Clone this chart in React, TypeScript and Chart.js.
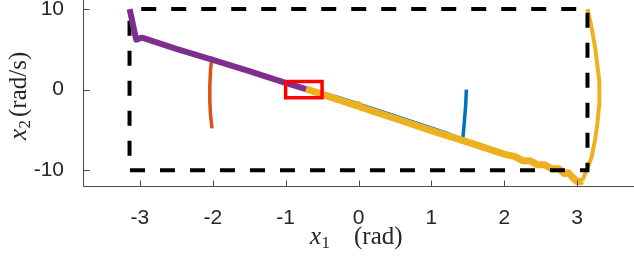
import React, { useEffect, useRef } from "react";
import { Chart, registerables } from "chart.js";

Chart.register(...registerables);

// ---- axes / ticks ----
const X_MIN = -3.78;
const X_MAX = 3.78;
const Y_MIN = -12.07;
const Y_MAX = 11.12;
const xTickValues = [-3, -2, -1, 0, 1, 2, 3];
const yTickValues = [-10, 0, 10];

// ---- state bounds (dashed box) ----
const boundsX = [-3.1416, 3.1416, 3.1416, -3.1416, -3.1416];
const boundsY = [10, 10, -10, -10, 10];

// ---- zoom region (red box) ----
const zoomBoxX = [-1, -0.5, -0.5, -1, -1];
const zoomBoxY = [1, 1, -1, -1, 1];

// ---- trajectories ----
const purpleX = [-3.14, -3.05, -2.97, -2.5, -2.0, -1.5, -1.0, -0.72];
const purpleY = [10, 6.2, 6.45, 5.05, 3.7, 2.3, 0.85, 0.08];

const orangeX = [-2.01, -2.03, -2.04, -2.04, -2.03, -2.01];
const orangeY = [4.1, 2.5, 0.5, -1.5, -3.2, -4.8];

const blueX = [1.48, 1.47, 1.45, 1.43, 1.2, 0.9, 0.6, 0.3, -0.3, -0.65];
const blueY = [0.0, -2.0, -4.2, -6.2, -5.35, -4.45, -3.55, -2.65, -0.9, -0.05];

const yellowX = [
  -0.72, -0.3, -0.02, 0.0, 0.03, 0.5, 1.0, 1.5, 2.0, 2.15, 2.25, 2.35, 2.45,
  2.55, 2.65, 2.75, 2.82, 2.88, 2.94, 3.0, 3.05, 3.07, 3.1, 3.15, 3.2, 3.25,
  3.28, 3.3, 3.31, 3.3, 3.28, 3.25, 3.21, 3.18, 3.14,
];
const yellowY = [
  0.09, -1.17, -2.01, -1.85, -2.16, -3.57, -5.07, -6.5, -8.0, -8.3, -8.8,
  -8.8, -9.3, -9.3, -9.8, -9.8, -10.4, -10.3, -10.9, -11.4, -11.4, -11.3,
  -10.6, -9.6, -8.3, -6.0, -4.0, -2.0, -0.5, 1.0, 2.8, 5.0, 7.1, 8.5, 10,
];

function pts(xs: number[], ys: number[]) {
  return xs.map((x, i) => ({ x, y: ys[i] }));
}

const AXIS_COLOR = "#4a4a4a";
const TEXT_COLOR = "#262626";

const axesPlugin = {
  id: "matlabAxes",
  afterDatasetsDraw(chart: any) {
    const { ctx, chartArea, scales } = chart;
    const xs = scales.x;
    const ys = scales.y;
    const left = Math.round(chartArea.left) + 0.5;
    const bottom = Math.round(chartArea.bottom) - 0.5;
    ctx.save();
    ctx.strokeStyle = AXIS_COLOR;
    ctx.lineWidth = 1;
    ctx.beginPath();
    ctx.moveTo(left, chartArea.top);
    ctx.lineTo(left, bottom);
    ctx.lineTo(chartArea.right, bottom);
    ctx.stroke();
    // inward ticks
    ctx.beginPath();
    xTickValues.forEach((v) => {
      const px = Math.round(xs.getPixelForValue(v)) + 0.5;
      ctx.moveTo(px, bottom);
      ctx.lineTo(px, bottom - 6);
    });
    yTickValues.forEach((v) => {
      const py = Math.round(ys.getPixelForValue(v)) + 0.5;
      ctx.moveTo(left, py);
      ctx.lineTo(left + 6, py);
    });
    ctx.stroke();
    ctx.restore();
  },
  afterDraw(chart: any) {
    const { ctx } = chart;
    ctx.save();
    ctx.fillStyle = TEXT_COLOR;
    ctx.textBaseline = "alphabetic";
    // x-axis title: x_1 (rad)
    const bx = 310;
    const by = 244;
    ctx.font = "italic 25px 'Liberation Serif'";
    ctx.textAlign = "left";
    ctx.fillText("x", bx, by);
    const wx = ctx.measureText("x").width;
    ctx.font = "17px 'Liberation Serif'";
    ctx.fillText("1", bx + wx + 0.5, by + 4);
    ctx.font = "25px 'Liberation Serif'";
    ctx.fillText("(rad)", 354, by);

    // y-axis title: x_2 (rad/s), rotated
    ctx.translate(26, 140);
    ctx.rotate(-Math.PI / 2);
    ctx.font = "italic 25px 'Liberation Serif'";
    ctx.fillText("x", 0, 0);
    const wy = ctx.measureText("x").width;
    ctx.font = "17px 'Liberation Serif'";
    ctx.fillText("2", wy + 0.5, 4);
    ctx.font = "25px 'Liberation Serif'";
    ctx.fillText("(rad/s)", 23, 0);
    ctx.restore();
  },
};

export default function App() {
  const ref = useRef<HTMLCanvasElement | null>(null);

  useEffect(() => {
    if (!ref.current) return;
    const line = (
      data: { x: number; y: number }[],
      color: string,
      width: number,
      order: number,
      extra: any = {}
    ) => ({
      data,
      borderColor: color,
      backgroundColor: color,
      borderWidth: width,
      pointRadius: 0,
      showLine: true,
      fill: false,
      tension: 0,
      order,
      borderJoinStyle: "round",
      borderCapStyle: "butt",
      ...extra,
    });

    const chart = new Chart(ref.current, {
      type: "scatter",
      data: {
        datasets: [
          line(pts(zoomBoxX, zoomBoxY), "#FF0000", 3.5, 0, { borderJoinStyle: "miter" }),
          line(pts(purpleX, purpleY), "#7E2F8E", 6, 1),
          line(pts(boundsX, boundsY), "#000000", 4, 2, {
            borderDash: [15, 15],
            borderDashOffset: 18.3,
            borderJoinStyle: "miter",
          }),
          line(pts(yellowX, yellowY), "#EDB120", 7, 3, {
            segment: {
              borderWidth: (c: any) => (c.p0.parsed.x > 3.06 ? 4 : 7),
            },
          }),
          line(pts(blueX, blueY), "#0072BD", 3.5, 4),
          line(pts(orangeX, orangeY), "#D95319", 3.5, 5),
        ],
      },
      options: {
        animation: false,
        responsive: false,
        devicePixelRatio: 1,
        layout: { padding: 0 },
        plugins: {
          legend: { display: false },
          tooltip: { enabled: false },
        },
        scales: {
          x: {
            type: "linear",
            min: X_MIN,
            max: X_MAX,
            grid: { display: false },
            border: { display: false },
            afterBuildTicks: (s: any) => {
              s.ticks = xTickValues.map((v) => ({ value: v }));
            },
            afterFit: (s: any) => {
              s.height = 75;
              s.paddingLeft = 0;
              s.paddingRight = 0;
            },
            ticks: {
              color: TEXT_COLOR,
              font: { family: "'Liberation Sans'", size: 21 },
              padding: 10.5,
              maxRotation: 0,
              autoSkip: false,
              callback: (v: any) => String(v),
            },
          },
          y: {
            type: "linear",
            min: Y_MIN,
            max: Y_MAX,
            grid: { display: false },
            border: { display: false },
            afterBuildTicks: (s: any) => {
              s.ticks = yTickValues.map((v) => ({ value: v }));
            },
            afterFit: (s: any) => {
              s.width = 83;
              s.paddingTop = 0;
              s.paddingBottom = 0;
            },
            ticks: {
              color: TEXT_COLOR,
              font: { family: "'Liberation Sans'", size: 21 },
              padding: 11,
              autoSkip: false,
              callback: (v: any) => String(v),
            },
          },
        },
      },
      plugins: [axesPlugin],
    } as any);
    return () => chart.destroy();
  }, []);

  return (
    <div style={{ position: "absolute", left: 0, top: 0, width: 634, height: 262, background: "#fff" }}>
      <canvas ref={ref} width={634} height={262} style={{ display: "block" }} />
    </div>
  );
}
